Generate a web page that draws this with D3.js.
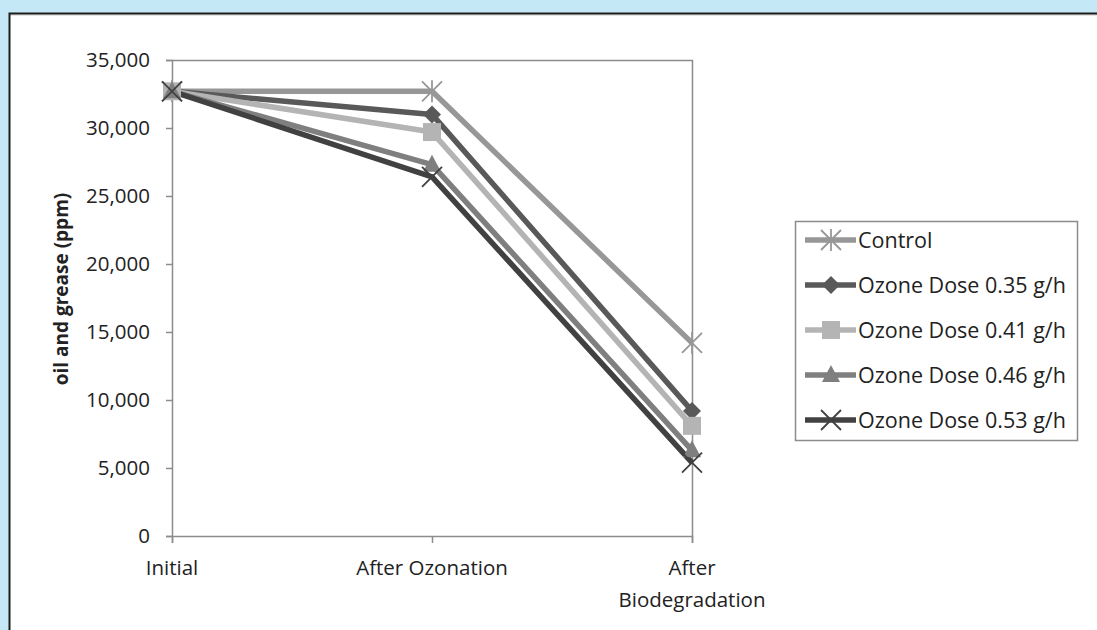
<!DOCTYPE html>
<html>
<head>
<meta charset="utf-8">
<script src="https://cdn.jsdelivr.net/npm/d3@7"></script>
<style>
  body { margin: 0; background: #c5e8f7; }
  svg { display: block; }
  text { font-family: "Open Sans", sans-serif; fill: #222; }
</style>
</head>
<body>
<svg width="1097" height="630"></svg>
<script>
var categories = ["Initial", "After Ozonation", "After Biodegradation"];
var seriesNames = ["Control", "Ozone Dose 0.35 g/h", "Ozone Dose 0.41 g/h", "Ozone Dose 0.46 g/h", "Ozone Dose 0.53 g/h"];
var control = [32700, 32700, 14200];
var dose035 = [32700, 31000, 9200];
var dose041 = [32700, 29700, 8100];
var dose046 = [32700, 27300, 6300];
var dose053 = [32700, 26400, 5400];
var yTicks = [0, 5000, 10000, 15000, 20000, 25000, 30000, 35000];

var colors = ["#979797", "#595959", "#b4b4b4", "#7f7f7f", "#414141"];
var shapes = ["star", "diamond", "square", "triangle", "x"];
var series = [control, dose035, dose041, dose046, dose053].map(function(v, i) {
  return { name: seriesNames[i], values: v, color: colors[i], shape: shapes[i] };
});

var svg = d3.select("svg");

// white panel
svg.append("rect").attr("x", 9).attr("y", 13).attr("width", 1100).attr("height", 630)
    .attr("fill", "#fff");
svg.append("line").attr("x1", 9).attr("x2", 1097).attr("y1", 15).attr("y2", 15)
    .attr("stroke", "#c8c8c8").attr("stroke-width", 1);
svg.append("path").attr("d", "M9.5,630V13.5H1097")
    .attr("fill", "none").attr("stroke", "#1c1c1c").attr("stroke-width", 2);

var pLeft = 172, pRight = 692, pTop = 60, pBottom = 536;

var x = d3.scalePoint().domain(categories).range([pLeft, pRight]);
var y = d3.scaleLinear().domain([0, 35000]).range([pBottom, pTop]);

// plot frame (top and right)
svg.append("path").attr("d", "M" + pLeft + "," + (pTop + 0.5) + "H" + (pRight + 0.5) + "V" + pBottom)
    .attr("fill", "none").attr("stroke", "#8c8c8c").attr("stroke-width", 1.5);

var yAxis = svg.append("g").attr("transform", "translate(" + pLeft + ",0)")
    .call(d3.axisLeft(y).tickValues(yTicks).tickSize(6).tickFormat(d3.format(",")));
var xAxis = svg.append("g").attr("transform", "translate(0," + pBottom + ")")
    .call(d3.axisBottom(x).tickSize(7).tickFormat(""));
[yAxis, xAxis].forEach(function(g) {
  g.select(".domain").attr("stroke", "#8c8c8c").attr("stroke-width", 1.5);
  g.selectAll(".tick line").attr("stroke", "#8c8c8c").attr("stroke-width", 1.5);
});
yAxis.selectAll(".tick text").attr("x", -22).style("font-size", "20.5px")
    .style("font-family", "'Open Sans', sans-serif").attr("fill", "#222");

// category labels
var catLines = [["Initial"], ["After Ozonation"], ["After", "Biodegradation"]];
categories.forEach(function(c, i) {
  catLines[i].forEach(function(t, j) {
    svg.append("text").attr("x", x(c)).attr("y", 575 + j * 32)
        .attr("text-anchor", "middle").style("font-size", "20.5px").text(t);
  });
});

svg.append("text")
    .attr("transform", "translate(68,289) rotate(-90)")
    .attr("text-anchor", "middle")
    .style("font-size", "19px").style("font-weight", "bold")
    .text("oil and grease (ppm)");

function marker(g, shape, color) {
  if (shape === "diamond") {
    g.append("path").attr("d", "M0,-9L9,0L0,9L-9,0Z").attr("fill", color);
  } else if (shape === "square") {
    g.append("rect").attr("x", -9).attr("y", -9).attr("width", 18).attr("height", 18).attr("fill", color);
  } else if (shape === "triangle") {
    g.append("path").attr("d", "M0,-10L9,7L-9,7Z").attr("fill", color);
  } else if (shape === "x") {
    g.append("path").attr("d", "M-10,-10L10,10M-10,10L10,-10").attr("stroke", color).attr("stroke-width", 1.8);
  } else {
    g.append("path").attr("d", "M-10,-10L10,10M-10,10L10,-10M0,-11V11")
        .attr("stroke", color).attr("stroke-width", 1.8);
  }
}

var line = d3.line().x(function(d, i) { return x(categories[i]); }).y(function(d) { return y(d); });

series.forEach(function(s) {
  svg.append("path").datum(s.values).attr("d", line)
      .attr("fill", "none").attr("stroke", s.color).attr("stroke-width", 5.5)
      .attr("stroke-linejoin", "round");
});
series.forEach(function(s) {
  s.values.forEach(function(v, i) {
    var g = svg.append("g").attr("transform", "translate(" + x(categories[i]) + "," + y(v) + ")");
    marker(g, s.shape, s.color);
  });
});

// legend
var lg = svg.append("g");
lg.append("rect").attr("x", 795.5).attr("y", 221.5).attr("width", 282).attr("height", 219)
    .attr("fill", "#fff").attr("stroke", "#8c8c8c").attr("stroke-width", 1.5);
series.forEach(function(s, i) {
  var cy = 240 + i * 45;
  lg.append("line").attr("x1", 805).attr("x2", 856).attr("y1", cy).attr("y2", cy)
      .attr("stroke", s.color).attr("stroke-width", 5.5);
  marker(lg.append("g").attr("transform", "translate(831," + cy + ")"), s.shape, s.color);
  lg.append("text").attr("x", 858).attr("y", cy).attr("dy", "0.35em")
      .style("font-size", "21.5px").text(s.name);
});
</script>
</body>
</html>
